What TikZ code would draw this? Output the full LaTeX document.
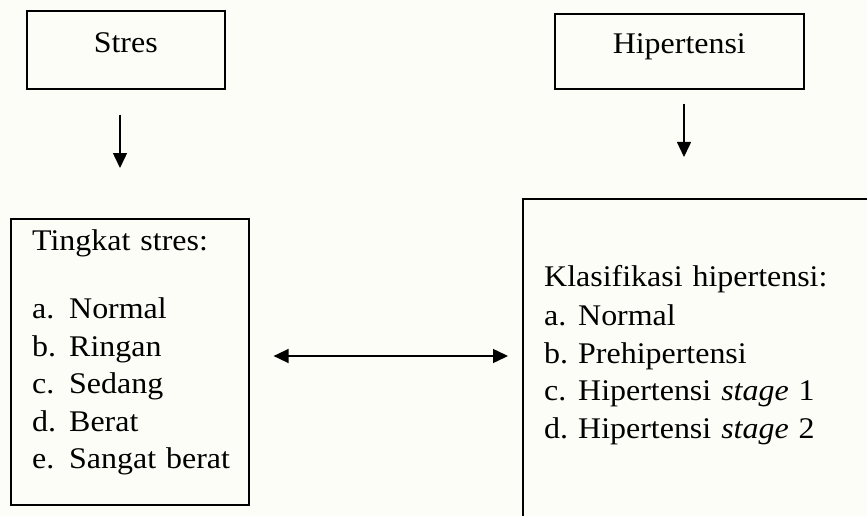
\documentclass[tikz,border=0pt]{standalone}
\usepackage{fontspec}
\setmainfont{Liberation Serif}[FakeStretch=1.065]
\usetikzlibrary{arrows.meta}

\definecolor{latar}{RGB}{253,253,248}
\tikzset{
  kotak/.style={draw, line width=1.6pt, inner sep=0pt, anchor=north west},
  judul/.style={font=\fontsize{30}{36}\selectfont},
  daftar/.style={inner sep=0pt, anchor=base west, text width=#1, align=left,
                 font=\fontsize{30}{37.5}\selectfont},
  panah/.style={line width=1.5pt, -{Triangle[length=15pt,width=14pt]}},
  panahdua/.style={line width=1.5pt,
                   {Triangle[length=15pt,width=14pt]}-{Triangle[length=15pt,width=14pt]}}
}
\newcommand{\butir}[2]{\makebox[#1][l]{#2}}

\begin{document}
\begin{tikzpicture}[x=1pt,y=-1pt]

\useasboundingbox (0,0) rectangle (867,516);
\fill[latar] (0,0) rectangle (867,516);
\clip (0,0) rectangle (867,516);

% kotak atas
\node[kotak, judul, minimum width=198pt, text height=42pt, text depth=36pt] (stres) at (26,10) {Stres};
\node[kotak, judul, minimum width=249pt, text height=40pt, text depth=35pt] (hipertensi) at (554,13) {Hipertensi};

% kotak bawah
\node[kotak, minimum width=238pt, minimum height=286pt] (tingkat) at (10,218) {};
\node[kotak, minimum width=380pt, minimum height=360pt] (klasifikasi) at (522,198) {};

\node[daftar=214pt] (tingkatteks) at (32,250) {Tingkat stres:\\[31pt]
  \butir{37pt}{a.}Normal\\
  \butir{37pt}{b.}Ringan\\
  \butir{37pt}{c.}Sedang\\
  \butir{37pt}{d.}Berat\\
  \butir{37pt}{e.}Sangat berat};

\node[daftar=310pt] (klasifikasiteks) at (544,286) {Klasifikasi hipertensi:\\[2pt]
  \butir{34pt}{a.}Normal\\
  \butir{34pt}{b.}Prehipertensi\\
  \butir{34pt}{c.}Hipertensi \textit{stage} 1\\
  \butir{34pt}{d.}Hipertensi \textit{stage} 2};

% panah
\draw[panah, shorten <=25pt, shorten >=50pt] (stres.south -| 120,0) -- (tingkat.north -| 120,0);
\draw[panah, shorten <=14pt, shorten >=41pt] (hipertensi.south -| 684,0) -- (klasifikasi.north -| 684,0);
\draw[panahdua, shorten <=24pt, shorten >=14pt] (tingkat.east |- 0,356) -- (klasifikasi.west |- 0,356);

\end{tikzpicture}
\end{document}
